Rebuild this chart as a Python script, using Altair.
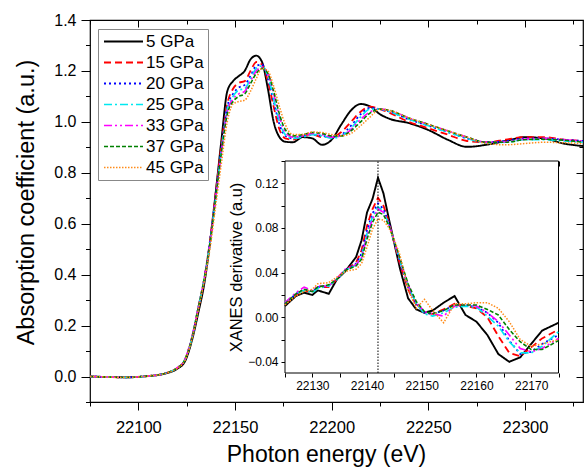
import altair as alt
import pandas as pd

series = ["5 GPa", "15 GPa", "20 GPa", "25 GPa", "33 GPa", "37 GPa", "45 GPa"]
colors = ["#000000", "#ff0000", "#0000ff", "#00e8f0", "#ff00ff", "#008000", "#ff8c1a"]
dashes = [[1, 0], [7, 4], [2, 3], [8, 3, 2, 3], [8, 3, 2, 3, 2, 3], [4, 2], [1.5, 1.5]]
widths = [1.9, 1.5, 1.5, 1.5, 1.5, 1.5, 1.5]

# ---- main XANES spectra ----
energy_main = [22075, 22085, 22095, 22105, 22110, 22115, 22120, 22124, 22128, 22131,
               22134, 22137, 22140, 22143, 22146, 22149, 22152, 22155, 22158, 22161,
               22164, 22167, 22170, 22173, 22176, 22180, 22185, 22190, 22195, 22200,
               22205, 22210, 22215, 22220, 22225, 22230, 22240, 22250, 22260, 22270,
               22280, 22290, 22300, 22310, 22320, 22330]
a_5 = [0.0, -0.002, -0.003, 0.002, 0.006, 0.014, 0.03, 0.058, 0.15, 0.25, 0.36, 0.52, 0.72, 0.93, 1.12,
       1.16, 1.18, 1.20, 1.245, 1.26, 1.235, 1.13, 1.0, 0.94, 0.922,
       0.92, 0.94, 0.935, 0.91, 0.93, 0.99, 1.045, 1.07, 1.06, 1.03, 1.012,
       0.995, 0.968, 0.93, 0.902, 0.91, 0.925, 0.94, 0.935, 0.915, 0.905]
a_15 = [0.0, -0.002, -0.003, 0.002, 0.006, 0.015, 0.033, 0.065, 0.16, 0.27, 0.38, 0.53, 0.72, 0.91, 1.07,
        1.13, 1.153, 1.16, 1.20, 1.235, 1.225, 1.16, 1.06, 0.97, 0.935,
        0.93, 0.945, 0.95, 0.94, 0.94, 0.96, 1.0, 1.04, 1.06, 1.05, 1.035,
        1.0, 0.975, 0.95, 0.925, 0.92, 0.93, 0.94, 0.94, 0.93, 0.925]
a_20 = [0.0, -0.002, -0.003, 0.002, 0.006, 0.015, 0.033, 0.065, 0.16, 0.27, 0.38, 0.53, 0.71, 0.90, 1.06,
        1.11, 1.135, 1.145, 1.18, 1.22, 1.225, 1.17, 1.08, 0.99, 0.945,
        0.935, 0.945, 0.95, 0.945, 0.94, 0.95, 0.985, 1.03, 1.055, 1.05, 1.04,
        1.01, 0.985, 0.96, 0.935, 0.92, 0.925, 0.935, 0.935, 0.93, 0.925]
a_25 = [0.0, -0.002, -0.003, 0.002, 0.006, 0.015, 0.033, 0.065, 0.16, 0.27, 0.38, 0.52, 0.70, 0.89, 1.05,
        1.10, 1.125, 1.13, 1.17, 1.21, 1.22, 1.18, 1.09, 1.0, 0.95,
        0.935, 0.94, 0.95, 0.945, 0.935, 0.945, 0.975, 1.02, 1.05, 1.05, 1.04,
        1.01, 0.985, 0.96, 0.935, 0.918, 0.92, 0.93, 0.93, 0.925, 0.92]
a_33 = [0.0, -0.002, -0.003, 0.002, 0.006, 0.015, 0.034, 0.066, 0.165, 0.27, 0.38, 0.52, 0.70, 0.88, 1.04,
        1.09, 1.11, 1.12, 1.16, 1.20, 1.215, 1.19, 1.11, 1.02, 0.96,
        0.94, 0.945, 0.955, 0.95, 0.94, 0.945, 0.97, 1.01, 1.04, 1.05, 1.045,
        1.015, 0.99, 0.965, 0.94, 0.92, 0.922, 0.932, 0.935, 0.93, 0.925]
a_37 = [0.0, -0.002, -0.003, 0.002, 0.006, 0.015, 0.033, 0.065, 0.16, 0.27, 0.38, 0.52, 0.70, 0.88, 1.03,
        1.08, 1.10, 1.11, 1.15, 1.19, 1.21, 1.19, 1.12, 1.03, 0.97,
        0.945, 0.95, 0.958, 0.955, 0.945, 0.945, 0.965, 1.0, 1.035, 1.05, 1.045,
        1.015, 0.99, 0.965, 0.94, 0.92, 0.92, 0.93, 0.932, 0.928, 0.92]
a_45 = [0.0, -0.002, -0.003, 0.002, 0.006, 0.015, 0.032, 0.062, 0.155, 0.26, 0.37, 0.50, 0.67, 0.84, 1.0,
        1.07, 1.08, 1.085, 1.12, 1.17, 1.21, 1.20, 1.14, 1.06, 0.99,
        0.95, 0.95, 0.96, 0.958, 0.95, 0.945, 0.955, 0.985, 1.02, 1.05, 1.045,
        1.015, 0.99, 0.965, 0.94, 0.915, 0.91, 0.915, 0.92, 0.918, 0.915]
main_vals = [a_5, a_15, a_20, a_25, a_33, a_37, a_45]

# ---- inset: XANES derivative ----
energy_inset = [22125, 22127, 22128.5, 22130, 22131, 22133, 22134.5, 22136, 22138, 22139,
                22140, 22141, 22142, 22143, 22144, 22145, 22146, 22147.5, 22149, 22150.5,
                22152, 22154, 22156, 22158, 22160, 22162, 22164, 22166, 22168, 22170,
                22172, 22175]
d_5 = [0.010, 0.019, 0.022, 0.020, 0.024, 0.021, 0.034, 0.041, 0.054, 0.069,
       0.094, 0.106, 0.125, 0.111, 0.088, 0.066, 0.044, 0.017, 0.007, 0.004,
       0.006, 0.013, 0.019, 0.002, -0.004, -0.016, -0.033, -0.040, -0.036, -0.024,
       -0.012, -0.005]
d_15 = [0.012, 0.020, 0.024, 0.022, 0.027, 0.027, 0.034, 0.042, 0.049, 0.060,
        0.082, 0.097, 0.107, 0.100, 0.085, 0.066, 0.048, 0.025, 0.011, 0.004,
        0.003, 0.007, 0.012, 0.010, 0.008, 0.000, -0.017, -0.032, -0.035, -0.027,
        -0.019, -0.011]
d_20 = [0.012, 0.021, 0.025, 0.023, 0.027, 0.028, 0.034, 0.042, 0.048, 0.057,
        0.078, 0.093, 0.102, 0.097, 0.084, 0.067, 0.050, 0.027, 0.012, 0.004,
        0.003, 0.006, 0.011, 0.011, 0.009, 0.004, -0.005, -0.021, -0.033, -0.031,
        -0.024, -0.016]
d_25 = [0.013, 0.021, 0.024, 0.022, 0.026, 0.028, 0.034, 0.042, 0.047, 0.054,
        0.075, 0.090, 0.099, 0.095, 0.083, 0.067, 0.051, 0.028, 0.012, 0.003,
        0.001, 0.004, 0.009, 0.010, 0.009, 0.001, -0.008, -0.022, -0.032, -0.032,
        -0.026, -0.013]
d_33 = [0.013, 0.022, 0.027, 0.024, 0.028, 0.028, 0.035, 0.043, 0.047, 0.053,
        0.073, 0.088, 0.097, 0.094, 0.083, 0.068, 0.052, 0.029, 0.013, 0.005,
        0.003, 0.001, 0.010, 0.011, 0.010, 0.004, -0.004, -0.016, -0.028, -0.031,
        -0.028, -0.019]
d_37 = [0.012, 0.021, 0.025, 0.023, 0.027, 0.029, 0.034, 0.042, 0.046, 0.052,
        0.070, 0.085, 0.094, 0.092, 0.082, 0.068, 0.053, 0.030, 0.014, 0.005,
        0.003, 0.006, 0.011, 0.011, 0.011, 0.007, 0.002, -0.011, -0.022, -0.029,
        -0.029, -0.021]
d_45 = [0.011, 0.019, 0.023, 0.025, 0.030, 0.031, 0.036, 0.041, 0.043, 0.048,
        0.063, 0.079, 0.088, 0.087, 0.080, 0.069, 0.056, 0.025, 0.008, 0.016,
        0.006, -0.005, 0.012, 0.012, 0.013, 0.013, 0.008, -0.004, -0.020, -0.026,
        -0.024, -0.020]
inset_vals = [d_5, d_15, d_20, d_25, d_33, d_37, d_45]
edge_energy = 22142

main_x_major = [22100, 22150, 22200, 22250, 22300]
main_x_minor = [22075, 22125, 22175, 22225, 22275, 22325]
main_y_major = [0.0, 0.2, 0.4, 0.6, 0.8, 1.0, 1.2, 1.4]
main_y_minor = [-0.1, 0.1, 0.3, 0.5, 0.7, 0.9, 1.1, 1.3]
inset_x_ticks = [22125, 22130, 22135, 22140, 22145, 22150, 22155, 22160, 22165, 22170, 22175]
inset_y_ticks = [-0.04, -0.02, 0.0, 0.02, 0.04, 0.06, 0.08, 0.10, 0.12, 0.14]

# ---- tables ----
df_main = pd.DataFrame([{"series": s, "order": i, "E": e, "A": v}
                        for i, (s, vals) in enumerate(zip(series, main_vals))
                        for e, v in zip(energy_main, vals)])
df_inset = pd.DataFrame([{"series": s, "order": i, "E": e, "D": v}
                         for i, (s, vals) in enumerate(zip(series, inset_vals))
                         for e, v in zip(energy_inset, vals)])
df_main_ext = pd.DataFrame({"E": [22075, 22330], "A": [-0.1, 1.4]})
df_in_ext = pd.DataFrame({"E": [22125, 22175], "D": [-0.05, 0.14]})
df_in_box = pd.DataFrame({"E1": [22125], "E2": [22175], "D1": [-0.05], "D2": [0.14]})
df_rule = pd.DataFrame({"E": [edge_energy], "D1": [-0.05], "D2": [0.14]})

FONT = "Liberation Sans"
W, H = 493, 382

X_MAIN = alt.Scale(domain=[22075, 22330], nice=False, zero=False)
Y_MAIN = alt.Scale(domain=[-0.1, 1.4], nice=False, zero=False)
X_IN = alt.Scale(domain=[22125, 22175], range=[195, 468.5], nice=False, zero=False)
Y_IN = alt.Scale(domain=[-0.05, 0.14], range=[353, 141], nice=False, zero=False)

color_scale = alt.Scale(domain=series, range=colors)
dash_scale = alt.Scale(domain=series, range=dashes)
width_scale = alt.Scale(domain=series, range=widths)

leg = alt.Legend(orient="none", legendX=8, legendY=9, title=None,
                 symbolType="M-3,0H3", symbolSize=169, symbolStrokeWidth=1.4,
                 symbolOffset=13, labelOffset=14,
                 labelFont=FONT, labelFontSize=17, labelColor="black",
                 strokeColor="#888888", fillColor="white", padding=4, rowPadding=3)

main_lines = alt.Chart(df_main).mark_line(interpolate="monotone", clip=True).encode(
    x=alt.X("E:Q", scale=X_MAIN,
            axis=alt.Axis(orient="bottom", values=main_x_major, format="d", tickSize=8,
                          labelPadding=9, labelFontSize=16.5, title="Photon energy (eV)",
                          titleFontSize=23, titlePadding=8, titleX=236)),
    y=alt.Y("A:Q", scale=Y_MAIN,
            axis=alt.Axis(orient="left", values=main_y_major, format=".1f", tickSize=9,
                          labelPadding=5, labelFontSize=16, title="Absorption coefficient (a.u.)",
                          titleFontSize=23.5, titlePadding=15, titleY=182)),
    color=alt.Color("series:N", scale=color_scale, legend=leg),
    strokeDash=alt.StrokeDash("series:N", scale=dash_scale, legend=leg),
    strokeWidth=alt.StrokeWidth("series:N", scale=width_scale, legend=None),
    order=alt.Order("order:Q"),
)

main_minor = alt.Chart(df_main_ext).mark_point(opacity=0).encode(
    x=alt.X("E:Q", scale=X_MAIN,
            axis=alt.Axis(orient="bottom", values=main_x_minor, tickSize=4, labels=False, title="")),
    y=alt.Y("A:Q", scale=Y_MAIN,
            axis=alt.Axis(orient="left", values=main_y_minor, tickSize=4.5, labels=False, title="")),
)

main_mirror_major = alt.Chart(df_main_ext).mark_point(opacity=0).encode(
    x=alt.X("E:Q", scale=X_MAIN,
            axis=alt.Axis(orient="top", offset=-7, values=main_x_major, tickSize=7, labels=False, title="")),
    y=alt.Y("A:Q", scale=Y_MAIN,
            axis=alt.Axis(orient="right", offset=-7, values=main_y_major, tickSize=7, labels=False, title="")),
)

main_mirror_minor = alt.Chart(df_main_ext).mark_point(opacity=0).encode(
    x=alt.X("E:Q", scale=X_MAIN,
            axis=alt.Axis(orient="top", offset=-4, values=main_x_minor, tickSize=4, labels=False, title="")),
    y=alt.Y("A:Q", scale=Y_MAIN,
            axis=alt.Axis(orient="right", offset=-4, values=main_y_minor, tickSize=4, labels=False, title="")),
)

inset_box = alt.Chart(df_in_box).mark_rect(fill="white", stroke="black", strokeWidth=1).encode(
    x=alt.X("E1:Q", scale=X_IN, axis=None),
    x2="E2:Q",
    y=alt.Y("D1:Q", scale=Y_IN, axis=None),
    y2="D2:Q",
)

inset_lines = alt.Chart(df_inset).mark_line(clip=True).encode(
    x=alt.X("E:Q", scale=X_IN,
            axis=alt.Axis(orient="bottom", offset=-29, values=inset_x_ticks, tickSize=4,
                          labelExpr="datum.value % 10 == 0 ? format(datum.value, 'd') : ''",
                          labelFontSize=12, labelPadding=3, title="")),
    y=alt.Y("D:Q", scale=Y_IN,
            axis=alt.Axis(orient="left", offset=-195, values=inset_y_ticks, tickSize=4,
                          labelExpr="abs(round(datum.value * 100)) % 4 == 0 ? format(datum.value, '.2f') : ''",
                          labelFontSize=12, labelPadding=3, title="XANES derivative (a.u)",
                          titleFontSize=16.5, titlePadding=3)),
    color=alt.Color("series:N", scale=color_scale, legend=leg),
    strokeDash=alt.StrokeDash("series:N", scale=dash_scale, legend=leg),
    strokeWidth=alt.StrokeWidth("series:N", scale=width_scale, legend=None),
    order=alt.Order("order:Q"),
)

inset_mirror = alt.Chart(df_in_ext).mark_point(opacity=0).encode(
    x=alt.X("E:Q", scale=X_IN,
            axis=alt.Axis(orient="top", offset=-146, values=inset_x_ticks, tickSize=5, labels=False, title="")),
    y=alt.Y("D:Q", scale=Y_IN,
            axis=alt.Axis(orient="right", offset=-29.5, values=inset_y_ticks, tickSize=5, labels=False, title="")),
)

edge_rule = alt.Chart(df_rule).mark_rule(color="black", strokeWidth=1, strokeDash=[1.5, 1.5]).encode(
    x=alt.X("E:Q", scale=X_IN, axis=None),
    y=alt.Y("D1:Q", scale=Y_IN, axis=None),
    y2="D2:Q",
)

chart = alt.layer(
    main_lines, main_minor, main_mirror_major, main_mirror_minor,
    inset_box, inset_lines, inset_mirror, edge_rule,
).resolve_scale(
    x="independent", y="independent"
).properties(
    width=W, height=H, autosize="none",
    padding={"left": 90, "top": 20, "right": 1, "bottom": 65},
).configure(
    font=FONT, background="white"
).configure_view(
    stroke="black", strokeWidth=1.2
).configure_axis(
    domain=False, grid=False, labelFont=FONT, titleFont=FONT, labelColor="black",
    titleColor="black", tickColor="black", tickWidth=1, titleFontWeight="normal", zindex=1,
)

chart.save("out.html", embed_options={"renderer": "svg", "actions": False})
